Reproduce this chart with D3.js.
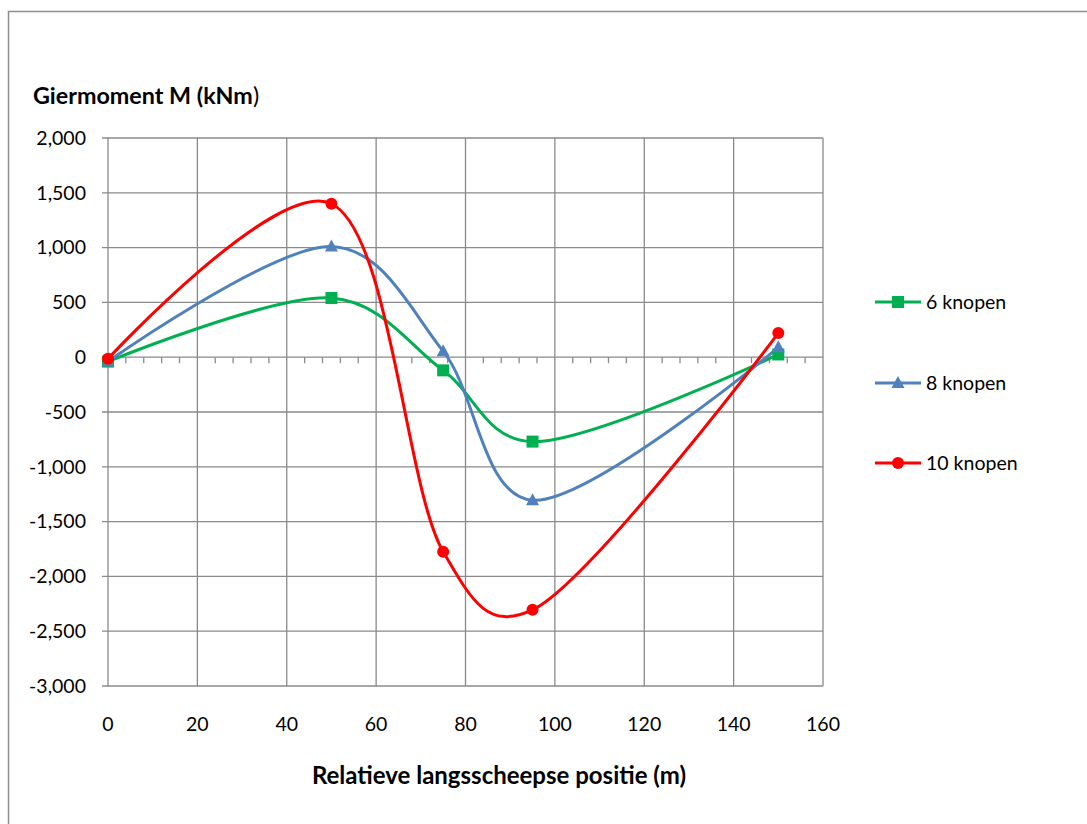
<!DOCTYPE html>
<html>
<head>
<meta charset="utf-8">
<script src="https://cdn.jsdelivr.net/npm/d3@7"></script>
<style>
  html, body { margin: 0; padding: 0; background: #fff; }
  svg { display: block; font-family: Lato, "Liberation Sans", sans-serif; }
</style>
</head>
<body>
<svg id="chart" width="1087" height="824"></svg>
<script>
// Position along the ship (m)
const positions = [0, 50, 75, 95, 150];
// Yaw moment per speed (kNm)
const knots6 = [-40, 540, -120, -770, 25];
const knots8 = [-40, 1010, 55, -1305, 90];
const knots10 = [-15, 1400, -1775, -2305, 220];
const seriesNames = ["6 knopen", "8 knopen", "10 knopen"];
const xTicks = [0, 20, 40, 60, 80, 100, 120, 140, 160];
const yTicks = [2000, 1500, 1000, 500, 0, -500, -1000, -1500, -2000, -2500, -3000];

const series = [
  { name: seriesNames[0], values: knots6, color: "#00B050", marker: "square" },
  { name: seriesNames[1], values: knots8, color: "#4F81BD", marker: "triangle" },
  { name: seriesNames[2], values: knots10, color: "#FF0000", marker: "circle" }
];

const svg = d3.select("#chart");
const plotLeft = 108, plotRight = 823, plotTop = 138, plotBottom = 686;
const grid = "#8a8a8a";

// outer frame
svg.append("rect").attr("x", 8.5).attr("y", 11.5).attr("width", 1100).attr("height", 840)
  .attr("fill", "none").attr("stroke", "#8f8f8f").attr("stroke-width", 1.5);

const x = d3.scaleLinear().domain([0, 160]).range([plotLeft, plotRight]);
const y = d3.scaleLinear().domain([-3000, 2000]).range([plotBottom, plotTop]);

// vertical gridlines
svg.append("g").selectAll("line").data(xTicks).join("line")
  .attr("x1", d => x(d)).attr("x2", d => x(d))
  .attr("y1", plotTop).attr("y2", plotBottom)
  .attr("stroke", grid).attr("stroke-width", 1.3);

// horizontal gridlines
svg.append("g").selectAll("line").data(yTicks).join("line")
  .attr("x1", plotLeft - 6).attr("x2", plotRight)
  .attr("y1", d => y(d)).attr("y2", d => y(d))
  .attr("stroke", grid).attr("stroke-width", 1.3);

// minor ticks along the zero line
const minor = d3.range(0, 161, 4).filter(v => v % 20 !== 0);
svg.append("g").selectAll("line").data(minor).join("line")
  .attr("x1", d => x(d)).attr("x2", d => x(d))
  .attr("y1", y(0)).attr("y2", y(0) + 6)
  .attr("stroke", grid).attr("stroke-width", 1.3);

// y tick labels (thousands separator, plain hyphen minus)
const fmt = d3.formatLocale({ decimal: ".", thousands: ",", grouping: [3], currency: ["", ""], minus: "-" }).format(",");
svg.append("g").selectAll("text").data(yTicks).join("text")
  .attr("x", 86).attr("y", d => y(d)).attr("dy", "0.35em")
  .attr("text-anchor", "end").attr("font-size", 19.5).attr("fill", "#000")
  .text(d => fmt(d));

// x tick labels
svg.append("g").selectAll("text").data(xTicks).join("text")
  .attr("x", d => x(d)).attr("y", 731)
  .attr("text-anchor", "middle").attr("font-size", 19.5).attr("fill", "#000")
  .text(d => d);

// titles
const yt = svg.append("text").attr("x", 33).attr("y", 104)
  .attr("font-size", 23.3).attr("font-weight", "bold").attr("fill", "#000");
yt.append("tspan").text("Giermoment M (kNm");
yt.append("tspan").attr("font-weight", "normal").text(")");

svg.append("text").attr("x", 499).attr("y", 784)
  .attr("text-anchor", "middle").attr("font-size", 24).attr("font-weight", "bold")
  .attr("fill", "#000").text("Relatieve langsscheepse positie  (m)");

// smoothed series lines
const line = d3.line()
  .x((d, i) => x(positions[i]))
  .y(d => y(d))
  .curve(d3.curveCatmullRom.alpha(0.2));

function drawMarker(g, type, cx, cy, color) {
  if (type === "square") {
    g.append("rect").attr("x", cx - 6).attr("y", cy - 6).attr("width", 12).attr("height", 12)
      .attr("fill", color);
  } else if (type === "triangle") {
    g.append("path").attr("d", `M${cx},${cy - 7} L${cx + 6.5},${cy + 5} L${cx - 6.5},${cy + 5} Z`)
      .attr("fill", color);
  } else {
    g.append("circle").attr("cx", cx).attr("cy", cy).attr("r", 6).attr("fill", color);
  }
}

const plot = svg.append("g");
series.forEach(s => {
  plot.append("path").datum(s.values).attr("d", line)
    .attr("fill", "none").attr("stroke", s.color).attr("stroke-width", 3)
    .attr("stroke-linejoin", "round");
});
series.forEach(s => {
  const g = plot.append("g");
  s.values.forEach((v, i) => drawMarker(g, s.marker, x(positions[i]), y(v), s.color));
});

// legend
const legendY = [302, 383, 463];
series.forEach((s, i) => {
  const g = svg.append("g");
  g.append("line").attr("x1", 875).attr("x2", 921).attr("y1", legendY[i]).attr("y2", legendY[i])
    .attr("stroke", s.color).attr("stroke-width", 3);
  drawMarker(g, s.marker, 898, legendY[i], s.color);
  g.append("text").attr("x", 926).attr("y", legendY[i]).attr("dy", "0.35em")
    .attr("font-size", 19.5).attr("fill", "#000").text(s.name);
});
</script>
</body>
</html>
